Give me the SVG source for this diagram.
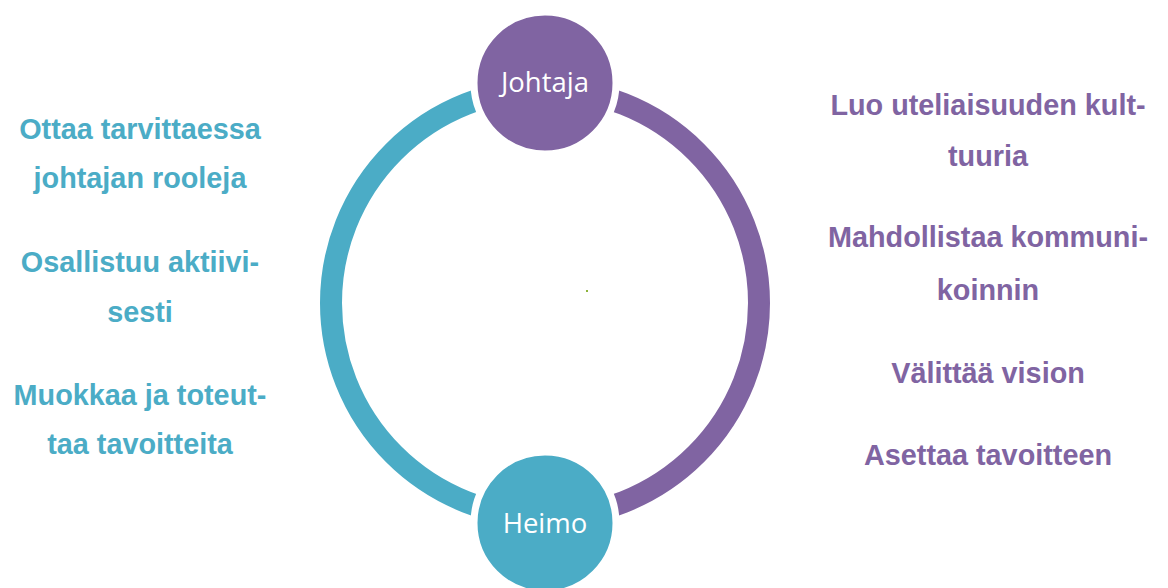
<svg xmlns="http://www.w3.org/2000/svg" width="1168" height="588" viewBox="0 0 1168 588">
<style>
.arc{fill:none;stroke-width:22;stroke-linecap:butt}
.node{stroke:#ffffff;stroke-width:7}
.nl{font-family:"Open Sans","Noto Sans",sans-serif;font-size:27.5px;fill:#ffffff;text-anchor:middle}
.lt{font-family:"Liberation Sans",Arial,sans-serif;font-weight:bold;font-size:28.8px;fill:#4BACC6;text-anchor:middle}
.rt{font-family:"Liberation Sans",Arial,sans-serif;font-weight:bold;font-size:28.8px;fill:#8064A2;text-anchor:middle}
</style>
<rect width="1168" height="588" fill="#ffffff"/>
<g id="connectors">
<path class="arc" stroke="#4BACC6" d="M545 89 A214 214 0 0 0 545 517"/>
<path class="arc" stroke="#8064A2" d="M545 89 A214 214 0 0 1 545 517"/>
</g>
<g id="johtaja">
<circle class="node" cx="545" cy="83" r="71" fill="#8064A2"/>
<text class="nl" x="545" y="92">Johtaja</text>
</g>
<g id="heimo">
<circle class="node" cx="545" cy="523" r="71" fill="#4BACC6"/>
<text class="nl" x="545" y="533">Heimo</text>
</g>
<g id="left-texts">
<text class="lt" x="140" y="139">Ottaa tarvittaessa</text>
<text class="lt" x="140" y="188">johtajan rooleja</text>
<text class="lt" x="140" y="272">Osallistuu aktiivi-</text>
<text class="lt" x="140" y="322">sesti</text>
<text class="lt" x="140" y="405">Muokkaa ja toteut-</text>
<text class="lt" x="140" y="454">taa tavoitteita</text>
</g>
<g id="right-texts">
<text class="rt" x="988" y="115">Luo uteliaisuuden kult-</text>
<text class="rt" x="988" y="166">tuuria</text>
<text class="rt" x="988" y="247">Mahdollistaa kommuni-</text>
<text class="rt" x="988" y="300">koinnin</text>
<text class="rt" x="988" y="383">Välittää vision</text>
<text class="rt" x="988" y="465">Asettaa tavoitteen</text>
</g>
<rect x="586" y="290" width="2" height="2" fill="#8DB33A"/>
</svg>
